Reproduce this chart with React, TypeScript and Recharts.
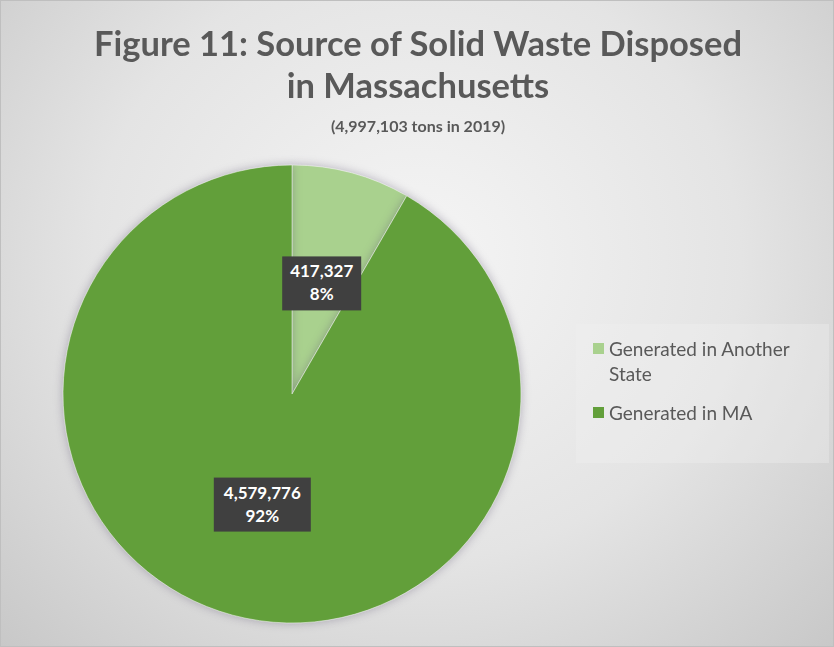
import React from "react"
import { PieChart, Pie, Cell, Legend } from "recharts"

const sources = ["Generated in Another State", "Generated in MA"]
const tons = [417327, 4579776]
const sliceColors = ["#a9d18e", "#629f3a"]

const totalTons = 4997103
const titleLines = ["Figure 11: Source of Solid Waste Disposed", "in Massachusetts"]
const subtitle = "(4,997,103 tons in 2019)"

const data = sources.map((name, i) => ({ name, value: tons[i] }))

const FONT = "Lato, 'Open Sans', sans-serif"
const RADIAN = Math.PI / 180

function SliceLabel(props: any) {
  const { cx, cy, midAngle, outerRadius, value } = props
  const r = outerRadius * 0.5
  const x = cx + r * Math.cos(-midAngle * RADIAN)
  const y = cy + r * Math.sin(-midAngle * RADIAN)
  const top = value.toLocaleString("en-US")
  const pct = `${Math.round((value / totalTons) * 100)}%`
  const w = top.length * 9 + 16
  const h = 54
  return (
    <g>
      <rect x={x - w / 2} y={y - h / 2} width={w} height={h} fill="#404040" />
      <text
        x={x}
        y={y - 6}
        textAnchor="middle"
        fill="#ffffff"
        fontFamily={FONT}
        fontWeight={700}
        fontSize={17}
      >
        {top}
      </text>
      <text
        x={x}
        y={y + 17}
        textAnchor="middle"
        fill="#ffffff"
        fontFamily={FONT}
        fontWeight={700}
        fontSize={17}
      >
        {pct}
      </text>
    </g>
  )
}

function LegendBox({ payload }: any) {
  return (
    <div
      style={{
        background: "rgba(240,240,240,0.35)",
        width: 253,
        height: 139,
        boxSizing: "border-box",
        padding: "12px 10px 0 17px",
        fontFamily: FONT,
        fontSize: 19,
        color: "#595959",
        lineHeight: "25px",
      }}
    >
      {(payload || []).map((p: any) => (
        <div key={p.value} style={{ display: "flex", alignItems: "flex-start", marginBottom: 14 }}>
          <div
            style={{
              width: 11,
              height: 11,
              background: p.color,
              marginTop: 7,
              marginRight: 5,
              flexShrink: 0,
            }}
          />
          <span>{p.value}</span>
        </div>
      ))}
    </div>
  )
}

export default function App() {
  return (
    <div
      style={{
        position: "fixed",
        left: 0,
        top: 0,
        width: 834,
        height: 647,
        boxSizing: "border-box",
        border: "1px solid #bfbfbf",
        background: "radial-gradient(ellipse at 50% 40%, #f5f5f5 0%, #e4e4e4 55%, #c8c8c8 100%)",
        overflow: "hidden",
      }}
    >
      <style>{`.recharts-pie-sector { filter: drop-shadow(0 0 5px rgba(90,80,110,0.4)); }`}</style>
      <div
        style={{
          position: "absolute",
          left: 0,
          top: 21,
          width: 834,
          textAlign: "center",
          fontFamily: FONT,
          fontWeight: 700,
          color: "#595959",
        }}
      >
        {titleLines.map((t) => (
          <div key={t} style={{ fontSize: 34.5, lineHeight: "42px" }}>
            {t}
          </div>
        ))}
        <div style={{ fontSize: 16, lineHeight: "28px", marginTop: 6 }}>{subtitle}</div>
      </div>
      <PieChart
        width={834}
        height={647}
        margin={{ top: 0, right: 0, bottom: 0, left: 0 }}
        style={{ position: "absolute", left: 0, top: 0 }}
      >
        <Pie
          data={data}
          dataKey="value"
          nameKey="name"
          cx={291}
          cy={393}
          outerRadius={229}
          startAngle={90}
          endAngle={-270}
          stroke="#ffffff"
          strokeWidth={0.5}
          label={SliceLabel}
          labelLine={false}
          isAnimationActive={false}
        >
          {data.map((d, i) => (
            <Cell key={d.name} fill={sliceColors[i]} />
          ))}
        </Pie>
        <Legend
          content={<LegendBox />}
          layout="vertical"
          verticalAlign="top"
          align="right"
          wrapperStyle={{ left: 575, top: 323, width: 253 }}
        />
      </PieChart>
    </div>
  )
}
